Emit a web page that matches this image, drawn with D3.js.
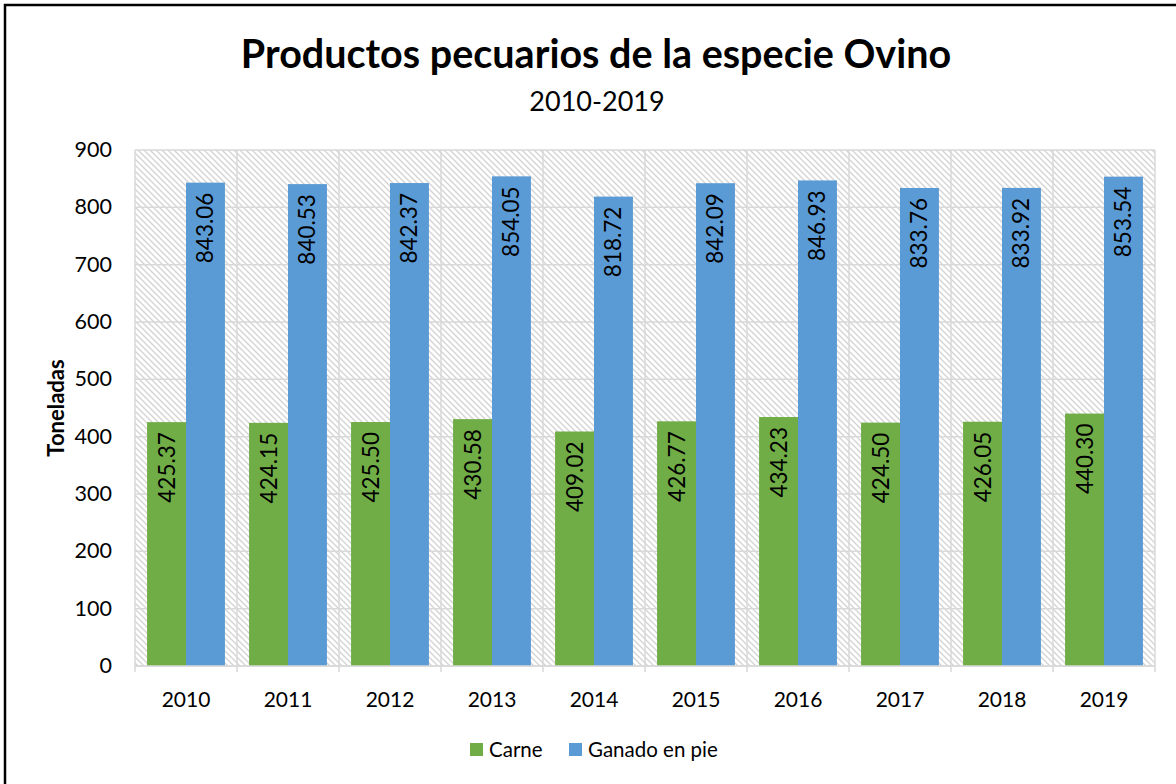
<!DOCTYPE html>
<html>
<head>
<meta charset="utf-8">
<script src="https://cdn.jsdelivr.net/npm/d3@7"></script>
<style>
  body { margin: 0; background: #fff; }
  svg text { font-family: Lato, "Open Sans", sans-serif; fill: #000; }
</style>
</head>
<body>
<svg id="chart" width="1176" height="784"></svg>
<script>
const years = ["2010", "2011", "2012", "2013", "2014", "2015", "2016", "2017", "2018", "2019"];
const carne = [425.37, 424.15, 425.50, 430.58, 409.02, 426.77, 434.23, 424.50, 426.05, 440.30];
const ganado = [843.06, 840.53, 842.37, 854.05, 818.72, 842.09, 846.93, 833.76, 833.92, 853.54];
const seriesNames = ["Carne", "Ganado en pie"];
const seriesColors = ["#70ad47", "#5b9bd5"];
const yTicks = [0, 100, 200, 300, 400, 500, 600, 700, 800, 900];

const svg = d3.select("#chart");
const plot = { left: 135, right: 1155, top: 150, bottom: 666 };

// outer frame
svg.append("rect")
	.attr("x", 5).attr("y", 5)
	.attr("width", 1200).attr("height", 800)
	.attr("fill", "none")
	.attr("stroke", "#000")
	.attr("stroke-width", 2.5);

// hatch pattern for the plot background
const defs = svg.append("defs");
const pat = defs.append("pattern")
	.attr("id", "hatch")
	.attr("patternUnits", "userSpaceOnUse")
	.attr("width", 6).attr("height", 6);
pat.append("path")
	.attr("d", "M0,0 L6,6 M-1,5 L1,7 M5,-1 L7,1")
	.attr("stroke", "#d4d4d4")
	.attr("stroke-width", 1.4);

const x0 = d3.scaleBand().domain(years).range([plot.left, plot.right]);
const x1 = d3.scaleBand().domain(seriesNames).range([0, x0.bandwidth()]).paddingOuter(0.31);
const y = d3.scaleLinear().domain([0, 900]).range([plot.bottom, plot.top]);

svg.append("rect")
	.attr("x", plot.left).attr("y", plot.top)
	.attr("width", plot.right - plot.left).attr("height", plot.bottom - plot.top)
	.attr("fill", "url(#hatch)");

// gridlines
svg.append("g")
	.selectAll("line")
	.data(yTicks)
	.join("line")
	.attr("x1", plot.left).attr("x2", plot.right)
	.attr("y1", (d) => y(d)).attr("y2", (d) => y(d))
	.attr("stroke", "#d9d9d9")
	.attr("stroke-width", 1.5);

const bounds = years.map((d) => x0(d)).concat([plot.right]);
svg.append("g")
	.selectAll("line")
	.data(bounds)
	.join("line")
	.attr("x1", (d) => d).attr("x2", (d) => d)
	.attr("y1", plot.top).attr("y2", plot.bottom + 6)
	.attr("stroke", "#d9d9d9")
	.attr("stroke-width", 1.5);

// bars
const rows = years.map((yr, i) => ({ year: yr, vals: [carne[i], ganado[i]] }));
const groups = svg.append("g")
	.selectAll("g")
	.data(rows)
	.join("g")
	.attr("transform", (d) => `translate(${x0(d.year)},0)`);

groups.selectAll("rect")
	.data((d) => d.vals.map((v, k) => ({ name: seriesNames[k], v: v, k: k })))
	.join("rect")
	.attr("x", (d) => x1(d.name))
	.attr("width", x1.bandwidth())
	.attr("y", (d) => y(d.v))
	.attr("height", (d) => y(0) - y(d.v))
	.attr("fill", (d) => seriesColors[d.k]);

groups.selectAll("text")
	.data((d) => d.vals.map((v, k) => ({ name: seriesNames[k], v: v })))
	.join("text")
	.attr("transform", (d) => `translate(${x1(d.name) + x1.bandwidth() / 2 + 8},${y(d.v) + 10}) rotate(-90)`)
	.attr("text-anchor", "end")
	.style("font-size", "22.5px")
	.text((d) => d.v.toFixed(2));

// axis line
svg.append("line")
	.attr("x1", plot.left).attr("x2", plot.right)
	.attr("y1", plot.bottom).attr("y2", plot.bottom)
	.attr("stroke", "#d9d9d9")
	.attr("stroke-width", 1.5);

// y tick labels
svg.append("g")
	.selectAll("text")
	.data(yTicks)
	.join("text")
	.attr("x", 112)
	.attr("y", (d) => y(d) + 7)
	.attr("text-anchor", "end")
	.style("font-size", "21.5px")
	.text((d) => d);

// x tick labels
svg.append("g")
	.selectAll("text")
	.data(years)
	.join("text")
	.attr("x", (d) => x0(d) + x0.bandwidth() / 2)
	.attr("y", 707)
	.attr("text-anchor", "middle")
	.style("font-size", "21px")
	.text((d) => d);

// titles
svg.append("text")
	.attr("x", 596).attr("y", 68)
	.attr("text-anchor", "middle")
	.style("font-size", "39.5px")
	.style("font-weight", "bold")
	.text("Productos pecuarios de la especie Ovino");
svg.append("text")
	.attr("x", 597).attr("y", 111)
	.attr("text-anchor", "middle")
	.style("font-size", "27px")
	.text("2010-2019");

svg.append("text")
	.attr("transform", "translate(64,408) rotate(-90)")
	.attr("text-anchor", "middle")
	.style("font-size", "22px")
	.style("font-weight", "bold")
	.text("Toneladas");

// legend
const legendX = [470, 569];
const legend = svg.append("g")
	.selectAll("g")
	.data(seriesNames)
	.join("g")
	.attr("transform", (d, i) => `translate(${legendX[i]},743)`);
legend.append("rect")
	.attr("width", 13).attr("height", 13)
	.attr("fill", (d, i) => seriesColors[i]);
legend.append("text")
	.attr("x", 19).attr("y", 14)
	.style("font-size", "20.5px")
	.text((d) => d);
</script>
</body>
</html>
